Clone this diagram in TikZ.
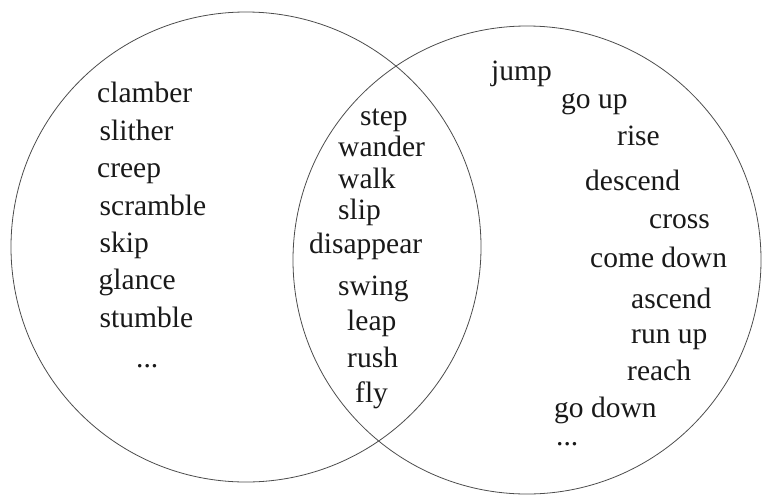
\documentclass[tikz,border=0pt]{standalone}
\usepackage{fontspec}
\setmainfont{Liberation Serif}
\begin{document}
\begin{tikzpicture}[x=1pt,y=-1pt,
  ring/.style={circle,draw=black!70,line width=0.8pt,inner sep=0pt},
  word/.style={anchor=base west,inner sep=0pt,font=\fontsize{29.5}{32}\selectfont,text=black!90}]
\useasboundingbox (0,0) rectangle (762,496);
\node[ring,minimum size=470pt] (L) at (246,247) {};
\node[ring,minimum size=468pt] (R) at (527,260) {};
% left set
\node[word] (w1) at (97,102.5) {clamber};
\node[word] (w2) at (99.5,140) {slither};
\node[word] (w3) at (97,177) {creep};
\node[word] (w4) at (99.5,215) {scramble};
\node[word] (w5) at (99.5,252) {skip};
\node[word] (w6) at (98.5,289) {glance};
\node[word] (w7) at (99.5,327) {stumble};
\node[word] (w8) at (136,367) {...};
% intersection
\node[word] (m1) at (360,125) {step};
\node[word] (m2) at (338,156) {wander};
\node[word] (m3) at (338,188) {walk};
\node[word] (m4) at (338,219) {slip};
\node[word] (m5) at (309,253) {disappear};
\node[word] (m6) at (338,295) {swing};
\node[word] (m7) at (347,330) {leap};
\node[word] (m8) at (347,367) {rush};
\node[word] (m9) at (355,402) {fly};
% right set
\node[word] (r1) at (491,80) {jump};
\node[word] (r2) at (561,108) {go up};
\node[word] (r3) at (617,145) {rise};
\node[word] (r4) at (585,190) {descend};
\node[word] (r5) at (649,228) {cross};
\node[word] (r6) at (590,267) {come down};
\node[word] (r7) at (631,308) {ascend};
\node[word] (r8) at (631,343) {run up};
\node[word] (r9) at (627,380) {reach};
\node[word] (r10) at (554,417) {go down};
\node[word] (r11) at (556,445) {...};
\end{tikzpicture}
\end{document}
